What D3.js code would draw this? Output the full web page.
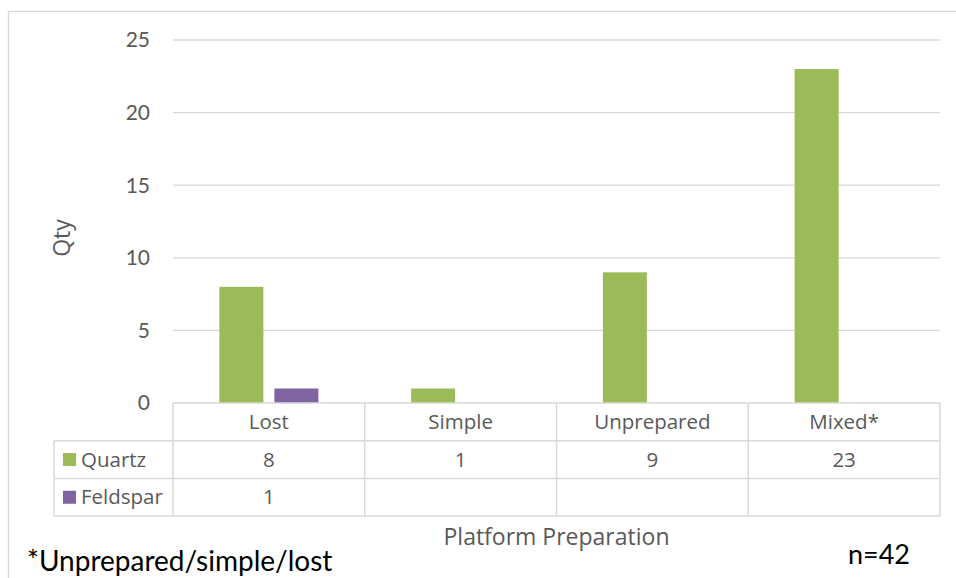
<!DOCTYPE html>
<html><head><meta charset="utf-8">
<script src="https://cdn.jsdelivr.net/npm/d3@7"></script>
<style>body{margin:0;background:#fff}svg{display:block}</style>
</head><body>
<svg id="c" width="956" height="578"></svg>
<script>
const categories = ["Lost", "Simple", "Unprepared", "Mixed*"];
const seriesNames = ["Quartz", "Feldspar"];
const quartz = [8, 1, 9, 23];
const feldspar = [1, null, null, null];
const yTicks = [0, 5, 10, 15, 20, 25];
const colors = ["#9BBB59", "#8064A2"];
const footnote = "*Unprepared/simple/lost";
const nLabel = "n=42";
const xTitle = "Platform Preparation";
const yTitle = "Qty";

(function () {
const series = [quartz, feldspar];
const svg = d3.select("#c");
const font = "'Open Sans', sans-serif";
const tickFont = "Lato, sans-serif";
const noteFont = "Lato, sans-serif";
const grey = "#595959", gridC = "#d9d9d9";

// outer border
svg.append("rect").attr("x", 8.5).attr("y", 11.5).attr("width", 1000).attr("height", 1000)
  .attr("fill", "none").attr("stroke", gridC).attr("stroke-width", 1.3);

const pL = 173, pR = 940, pT = 40, pB = 403;
const x = d3.scaleBand().domain(categories).range([pL, pR]);
const xs = d3.scaleBand().domain(seriesNames).range([0, 99]).paddingInner(0.2);
const y = d3.scaleLinear().domain([0, 25]).range([pB, pT]);

// gridlines
svg.append("g").selectAll("line").data(yTicks.filter(d => d > 0)).join("line")
  .attr("x1", pL).attr("x2", pR).attr("y1", d => y(d)).attr("y2", d => y(d))
  .attr("stroke", gridC).attr("stroke-width", 1.3);

// y tick labels
svg.append("g").selectAll("text").data(yTicks).join("text")
  .attr("x", 150).attr("y", d => y(d)).attr("dy", "0.35em").attr("text-anchor", "end")
  .attr("font-family", tickFont).attr("font-size", 21).attr("fill", grey).text(d => d);

// bars
const groupOffset = (x.bandwidth() - 99) / 2;
series.forEach((vals, si) => {
  svg.append("g").selectAll("rect").data(vals.map((v, i) => ({v, c: categories[i]})).filter(d => d.v != null))
    .join("rect")
    .attr("x", d => x(d.c) + groupOffset + xs(seriesNames[si]))
    .attr("width", xs.bandwidth())
    .attr("y", d => y(d.v)).attr("height", d => y(0) - y(d.v))
    .attr("fill", colors[si]);
});

// data table
const rowH = 37.7;
const tableLeft = 54;
const rowsY = [pB, pB + rowH, pB + 2 * rowH, pB + 3 * rowH];
const tg = svg.append("g").attr("stroke", gridC).attr("stroke-width", 1.5);
tg.append("line").attr("x1", pL).attr("x2", pR).attr("y1", rowsY[0]).attr("y2", rowsY[0]);
[1, 2, 3].forEach(i => tg.append("line").attr("x1", tableLeft).attr("x2", pR).attr("y1", rowsY[i]).attr("y2", rowsY[i]));
tg.append("line").attr("x1", tableLeft).attr("x2", tableLeft).attr("y1", rowsY[1]).attr("y2", rowsY[3]);
categories.forEach(c => tg.append("line").attr("x1", x(c)).attr("x2", x(c)).attr("y1", rowsY[0]).attr("y2", rowsY[3]));
tg.append("line").attr("x1", pR).attr("x2", pR).attr("y1", rowsY[0]).attr("y2", rowsY[3]);

// header labels
svg.append("g").selectAll("text").data(categories).join("text")
  .attr("x", d => x(d) + x.bandwidth() / 2).attr("y", rowsY[0] + rowH / 2).attr("dy", "0.35em")
  .attr("text-anchor", "middle").attr("font-family", font).attr("font-size", 20.5).attr("fill", grey).text(d => d);

// series rows
series.forEach((vals, si) => {
  const cy = rowsY[si + 1] + rowH / 2;
  svg.append("rect").attr("x", 63).attr("y", cy - 6.5).attr("width", 13).attr("height", 13).attr("fill", colors[si]);
  svg.append("text").attr("x", 81).attr("y", cy).attr("dy", "0.35em").attr("font-family", font)
    .attr("font-size", 20.5).attr("fill", grey).text(seriesNames[si]);
  svg.append("g").selectAll("text").data(vals.map((v, i) => ({v, c: categories[i]})).filter(d => d.v != null)).join("text")
    .attr("x", d => x(d.c) + x.bandwidth() / 2).attr("y", cy).attr("dy", "0.35em")
    .attr("text-anchor", "middle").attr("font-family", font).attr("font-size", 20.5).attr("fill", grey).text(d => d.v);
});

// axis titles
svg.append("text").attr("x", (pL + pR) / 2).attr("y", 537).attr("dy", "0.35em").attr("text-anchor", "middle")
  .attr("font-family", font).attr("font-size", 23).attr("fill", grey).text(xTitle);
svg.append("text").attr("transform", "translate(62,238) rotate(-90)").attr("dy", "0.35em").attr("text-anchor", "middle")
  .attr("font-family", font).attr("font-size", 23).attr("fill", grey).text(yTitle);

// notes
svg.append("text").attr("x", 27).attr("y", 571).attr("font-family", noteFont).attr("font-size", 28).attr("fill", "#000").text(footnote);
svg.append("text").attr("x", 910).attr("y", 564).attr("text-anchor", "end").attr("font-family", noteFont).attr("font-size", 27).attr("fill", "#000").text(nLabel);
})();
</script>
</body></html>
